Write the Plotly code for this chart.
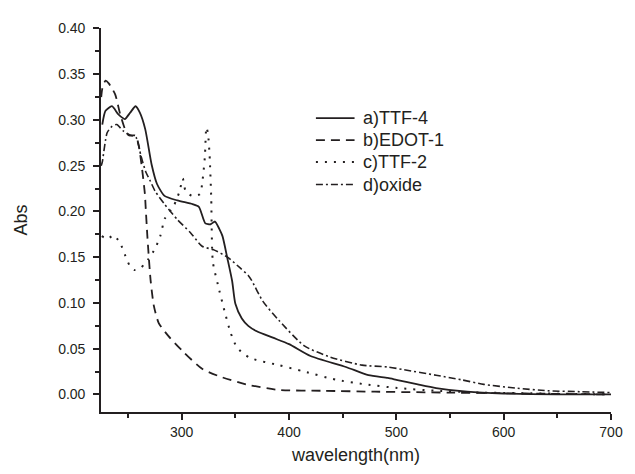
import plotly.graph_objects as go

# ---- data ----
wl_a = [226, 229, 235, 241, 247, 252, 257, 261, 266, 272, 277, 284, 296, 310, 316, 322, 327, 331, 335,
        338, 342.7, 347, 350, 356, 362, 370, 385, 400, 420, 453, 474, 492, 500, 520, 537, 566, 600, 650, 700]
abs_a = [0.295, 0.310, 0.315, 0.306, 0.301, 0.308, 0.315, 0.308, 0.290, 0.251, 0.230, 0.217, 0.212, 0.208,
         0.205, 0.187, 0.186, 0.189, 0.181, 0.173, 0.148, 0.124, 0.099, 0.083, 0.075, 0.069, 0.062, 0.055,
         0.042, 0.030, 0.021, 0.018, 0.016, 0.011, 0.007, 0.003, 0.001, 0.000, 0.000]

wl_b = [225.0, 226, 229, 232, 238, 242.5, 248.5, 251, 257, 260, 263, 265.7, 266.4, 268, 271, 274, 278.6,
        287.5, 302, 319, 337, 360, 390, 432, 480, 550, 620, 700]
abs_b = [0.325, 0.334, 0.343, 0.340, 0.328, 0.307, 0.286, 0.283, 0.283, 0.272, 0.247, 0.219, 0.205, 0.173,
         0.125, 0.097, 0.078, 0.064, 0.046, 0.028, 0.019, 0.011, 0.005, 0.004, 0.003, 0.002, 0.001, 0.000]

wl_c = [225.5, 231, 236.5, 242.4, 247, 251.4, 256, 260.3, 265, 269, 275, 280, 284.2, 293, 298, 301, 303.7,
        309.6, 317, 319.5, 321.6, 323, 324.5, 326, 327.5, 329, 333.7, 339.7, 345.7, 351.7, 363.6, 390.5,
        414, 444, 471, 501, 537, 580, 640, 700]
abs_c = [0.173, 0.170, 0.174, 0.166, 0.153, 0.141, 0.136, 0.137, 0.142, 0.148, 0.159, 0.173, 0.192, 0.207,
         0.222, 0.236, 0.222, 0.217, 0.219, 0.235, 0.260, 0.292, 0.285, 0.261, 0.215, 0.145, 0.120, 0.092,
         0.067, 0.051, 0.040, 0.032, 0.025, 0.016, 0.011, 0.007, 0.004, 0.002, 0.001, 0.000]

wl_d = [225.0, 226, 230.5, 235, 239.5, 245.5, 253, 257.4, 262, 266.3, 270.8, 275.3, 284, 296, 308, 319,
        330, 342.7, 354.7, 362, 365, 375.5, 390.5, 414.3, 438, 468, 492, 507, 537, 560.6, 581.5, 611, 641,
        671, 700]
abs_d = [0.250, 0.254, 0.286, 0.293, 0.295, 0.288, 0.283, 0.281, 0.261, 0.244, 0.233, 0.222, 0.208, 0.191,
         0.177, 0.162, 0.158, 0.150, 0.138, 0.130, 0.125, 0.102, 0.081, 0.053, 0.041, 0.032, 0.030, 0.027,
         0.021, 0.016, 0.011, 0.007, 0.004, 0.003, 0.002]

series_names = ["a)TTF-4", "b)EDOT-1", "c)TTF-2", "d)oxide"]
x_ticks = [300, 400, 500, 600, 700]
y_ticks = [0.00, 0.05, 0.10, 0.15, 0.20, 0.25, 0.30, 0.35, 0.40]

INK = "#231f20"
FONT = "Liberation Sans, Arial, sans-serif"

# the page body has an 8px default margin -> figure is 8px smaller than the window
FIG_W, FIG_H = 627, 466
M_L, M_R, M_T, M_B = 84.5, 14.5, 12.7, 60
PLOT_W = FIG_W - M_L - M_R
PLOT_H = FIG_H - M_T - M_B


def px_to_paper_x(px):
    return (px - M_L) / PLOT_W


def px_to_paper_y(py):
    return 1 - (py - M_T) / PLOT_H


styles = [
    dict(dash="solid", width=1.8),
    dict(dash="9px,6px", width=1.8),
    dict(dash="2px,7px", width=2.0),
    dict(dash="7px,3px,2px,3px", width=1.6),
]

fig = go.Figure()
for (xs, ys), name, st in zip([(wl_a, abs_a), (wl_b, abs_b), (wl_c, abs_c), (wl_d, abs_d)],
                              series_names, styles):
    fig.add_trace(go.Scatter(x=xs, y=ys, mode="lines", name=name, showlegend=False,
                             line=dict(color=INK, width=st["width"], dash=st["dash"], shape="spline",
                                       smoothing=0.6)))

# legend drawn as line samples + text labels (layout decoration)
legend_rows_px = [105, 127.5, 150, 173]
line_x0, line_x1, text_x = 307, 347, 354
for name, st, ry in zip(series_names, styles, legend_rows_px):
    yp = px_to_paper_y(ry)
    fig.add_shape(type="line", xref="paper", yref="paper",
                  x0=px_to_paper_x(line_x0), x1=px_to_paper_x(line_x1), y0=yp, y1=yp,
                  line=dict(color=INK, width=st["width"], dash=st["dash"]))
    fig.add_annotation(xref="paper", yref="paper", x=px_to_paper_x(text_x), y=yp,
                       xanchor="left", yanchor="middle", showarrow=False, text=name,
                       font=dict(family=FONT, size=18, color=INK))

axis_common = dict(
    showline=True, linecolor=INK, linewidth=1.6, ticks="outside", tickcolor=INK, tickwidth=1.5,
    ticklen=6, showgrid=False, zeroline=False, mirror=False,
    tickfont=dict(family=FONT, size=14, color=INK),
)

fig.update_layout(
    width=FIG_W, height=FIG_H,
    margin=dict(l=M_L, r=M_R, t=M_T, b=M_B),
    paper_bgcolor="white", plot_bgcolor="white",
    font=dict(family=FONT, color=INK),
    xaxis=dict(range=[224.8, 700], tickvals=x_ticks, ticktext=[str(v) for v in x_ticks],
               minor=dict(dtick=50, tick0=0, ticks="outside", ticklen=4, tickcolor=INK, tickwidth=1.5),
               title=dict(text="wavelength(nm)", font=dict(family=FONT, size=18, color=INK), standoff=10),
               **axis_common),
    yaxis=dict(range=[-0.0192, 0.4005], tickvals=y_ticks, ticktext=[f"{v:.2f}" for v in y_ticks],
               minor=dict(dtick=0.025, tick0=0, ticks="outside", ticklen=4, tickcolor=INK, tickwidth=1.5),
               ticklabelstandoff=5,
               title=dict(text="Abs", font=dict(family=FONT, size=18, color=INK), standoff=26),
               **axis_common),
    showlegend=False,
)

fig.write_html("out.html")
